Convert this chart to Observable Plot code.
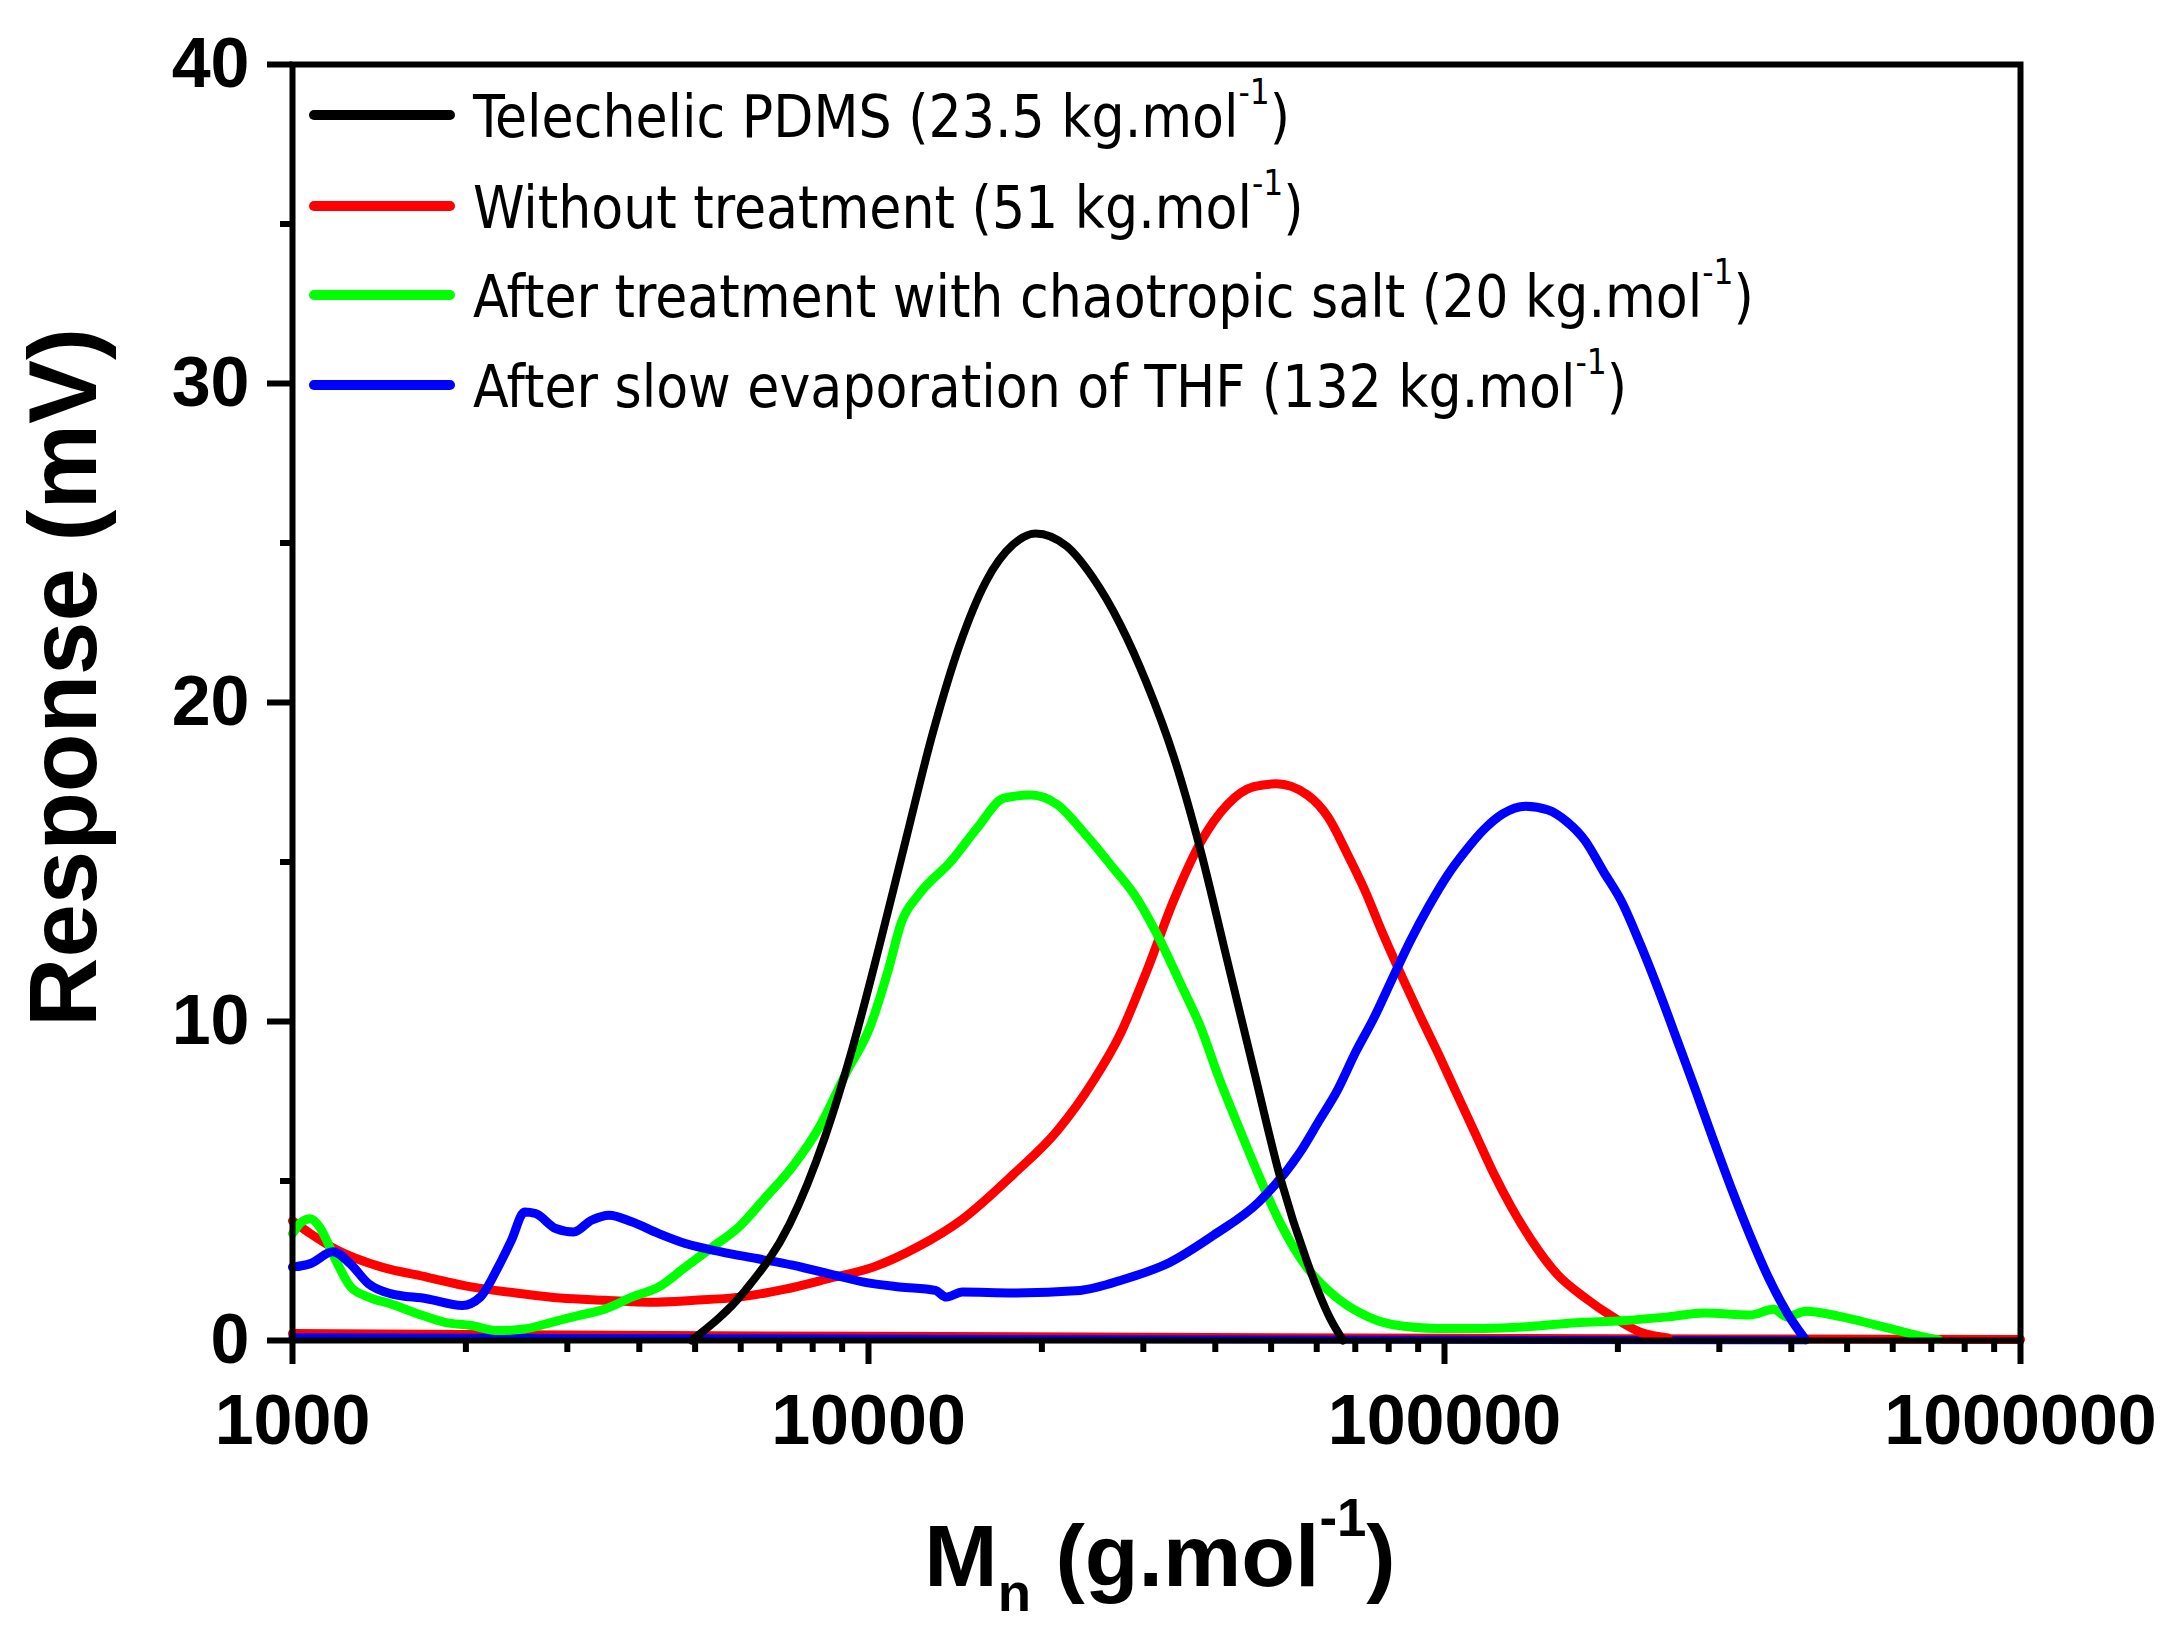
<!DOCTYPE html>
<html>
<head>
<meta charset="utf-8">
<script src="https://cdn.jsdelivr.net/npm/d3@7"></script>
<script src="https://cdn.jsdelivr.net/npm/@observablehq/plot@0.6"></script>
<style>
  body { margin: 0; background: #fff; }
  #chart { position: relative; width: 2181px; height: 1640px; }
  .leg { position: absolute; left: 309px; height: 0; }
  .leg .sw { position: absolute; left: 0; top: -5px; width: 146px; height: 10px; border-radius: 5px; }
  .leg .tx { position: absolute; left: 164px; top: -27px; font-family: "DejaVu Sans Condensed", "DejaVu Sans"; font-stretch: condensed;
             font-size: 58px; line-height: 1; white-space: nowrap; color: #000; }
  .leg sup, .xt sup { font-size: 0.6em; line-height: 0; position: relative; top: 0.12em; vertical-align: top; }
  .xt { position: absolute; left: 1160px; top: 1512px; transform: translateX(-50%); font-family: "Liberation Sans", Arial;
        font-weight: bold; font-size: 88px; line-height: 1; white-space: nowrap; }
  .xt sub { font-size: 0.62em; line-height: 0; position: relative; top: 0.45em; vertical-align: baseline; }
</style>
</head>
<body>
<div id="chart"></div>
<script>
// axes
const decades = [1000, 10000, 100000, 1000000]
const minorSteps = [2, 3, 4, 5, 6, 7, 8, 9]
const yMajor = [0, 10, 20, 30, 40]
const yMinor = [5, 15, 25, 35]

// legend
const names = [
  "Telechelic PDMS (23.5 kg.mol",
  "Without treatment (51 kg.mol",
  "After treatment with chaotropic salt (20 kg.mol",
  "After slow evaporation of THF (132 kg.mol"
]
const colors = ["#000000", "#ff0000", "#00ff00", "#0000ff"]

// Telechelic PDMS
const pdmsM = [4930, 6110, 7290, 8410, 9380, 10420, 11610, 12910, 14390, 16000, 17820, 19500, 22080, 24550, 27350, 30410, 33880, 37670, 41980, 46670, 52000, 57810, 63240, 66680]
const pdmsR = [0, 1.57, 3.64, 6.4, 9.17, 12.3, 15.7, 19.0, 21.8, 23.8, 24.95, 25.3, 24.9, 23.9, 22.45, 20.6, 18.3, 15.4, 11.9, 8.47, 5.03, 2.44, 0.71, 0]

// Without treatment
const rawM = [1000, 1074, 1197, 1429, 1710, 2042, 2443, 2917, 3491, 4169, 4989, 5957, 7129, 8511, 10190, 12160, 14550, 17820, 21280, 24550, 27350, 30410, 33880, 37670, 41980, 46670, 51050, 57810, 62810, 67610, 72780, 78160, 84140, 90570, 97500, 104950, 112980, 121620, 130920, 140930, 157040, 175390, 195880, 218780, 244340]
const rawR = [3.75, 3.35, 2.83, 2.3, 1.99, 1.68, 1.49, 1.33, 1.26, 1.2, 1.26, 1.36, 1.6, 1.94, 2.3, 2.93, 3.8, 5.2, 6.58, 8.13, 9.6, 11.58, 13.8, 15.6, 16.8, 17.36, 17.45, 17.1, 16.4, 15.3, 14.1, 12.75, 11.45, 10.2, 9.0, 7.75, 6.5, 5.25, 4.15, 3.2, 2.07, 1.34, 0.74, 0.26, 0.08]
const rawBaseM = [1000, 3000, 10000, 30000, 100000, 300000, 1000000]
const rawBaseR = [0.22, 0.17, 0.13, 0.1, 0.07, 0.05, 0.03]

// After treatment with chaotropic salt
const saltM = [1000, 1038, 1074, 1114, 1153, 1197, 1262, 1355, 1479, 1648, 1837, 2042, 2275, 2529, 2818, 3133, 3491, 3882, 4325, 4808, 5358, 5957, 6637, 7379, 8222, 9141, 10070, 10810, 11400, 12250, 13870, 15450, 17180, 19140, 21280, 23710, 26360, 29380, 31550, 35080, 37670, 40460, 43450, 47530, 52000, 57810, 64420, 71450, 81100, 97500, 117200, 140930, 169040, 203240, 244340, 282490, 339630, 372410, 393550, 423640, 489780, 557190, 610940, 669880, 721100]
const saltR = [3.35, 3.72, 3.82, 3.56, 3.04, 2.41, 1.68, 1.36, 1.15, 0.84, 0.57, 0.47, 0.31, 0.36, 0.57, 0.78, 0.99, 1.36, 1.68, 2.3, 2.93, 3.56, 4.5, 5.45, 6.7, 8.38, 9.85, 11.58, 13.1, 14.0, 15.0, 16.07, 17.0, 17.1, 16.8, 15.9, 14.9, 13.8, 12.8, 11.06, 9.85, 8.3, 6.9, 5.2, 3.64, 2.27, 1.4, 0.86, 0.5, 0.38, 0.38, 0.44, 0.56, 0.62, 0.74, 0.86, 0.8, 0.98, 0.74, 0.92, 0.74, 0.5, 0.32, 0.14, 0.02]

// After slow evaporation of THF
const thfM = [1000, 1074, 1175, 1259, 1355, 1479, 1710, 1972, 2118, 2275, 2399, 2529, 2642, 2864, 3076, 3304, 3548, 3882, 4325, 4808, 5546, 6397, 7379, 8511, 9817, 11320, 13060, 13650, 14550, 17820, 23280, 27800, 33270, 39720, 47530, 56230, 60530, 65160, 70150, 75510, 81100, 87300, 93970, 101160, 108890, 117220, 126190, 138360, 151360, 162930, 175390, 188800, 203240, 218780, 235500, 253510, 272900, 293090, 315500, 339630, 365600, 393550, 423640]
const thfR = [2.3, 2.41, 2.78, 2.41, 1.78, 1.47, 1.31, 1.1, 1.36, 2.3, 3.14, 4.03, 3.98, 3.51, 3.4, 3.77, 3.93, 3.72, 3.35, 3.04, 2.78, 2.57, 2.36, 2.1, 1.83, 1.68, 1.57, 1.36, 1.52, 1.49, 1.57, 1.92, 2.44, 3.3, 4.33, 5.92, 6.88, 7.84, 9.05, 10.13, 11.33, 12.54, 13.62, 14.58, 15.36, 16.03, 16.51, 16.75, 16.63, 16.27, 15.67, 14.7, 13.74, 12.42, 10.97, 9.41, 7.84, 6.28, 4.72, 3.27, 1.95, 0.86, 0.02]
const thfBaseM = [1000, 3000, 10000, 30000, 100000, 423640]
const thfBaseR = [0.1, 0.08, 0.06, 0.04, 0.02, 0.01]

const pts = (M, R) => M.map((m, i) => ({M: m, r: R[i]}))

const minorX = decades.slice(0, 3).flatMap(d => minorSteps.map(s => s * d))

let chart = Plot.plot({
  width: 2181,
  height: 1640,
  marginLeft: 292,
  marginRight: 161,
  marginTop: 64,
  marginBottom: 300,
  style: {fontFamily: "Liberation Sans, Arial", fontWeight: "bold", color: "#000", background: "#fff"},
  x: {type: "log", domain: [1000, 1000000]},
  y: {domain: [0, 40]},
  marks: [
    Plot.line(pts(rawBaseM, rawBaseR), {x: "M", y: "r", stroke: colors[1], strokeWidth: 9}),
    Plot.line(pts(thfBaseM, thfBaseR), {x: "M", y: "r", stroke: colors[3], strokeWidth: 8}),
    Plot.line(pts(rawM, rawR), {x: "M", y: "r", stroke: colors[1], strokeWidth: 9, curve: "monotone-x"}),
    Plot.line(pts(saltM, saltR), {x: "M", y: "r", stroke: colors[2], strokeWidth: 9, curve: "monotone-x"}),
    Plot.line(pts(thfM, thfR), {x: "M", y: "r", stroke: colors[3], strokeWidth: 9, curve: "monotone-x"}),
    Plot.line(pts(pdmsM, pdmsR), {x: "M", y: "r", stroke: colors[0], strokeWidth: 8, curve: "monotone-x"}),
    Plot.frame({stroke: "#000", strokeWidth: 6}),
    Plot.axisX(decades, {tickSize: 24, tickPadding: 30, strokeWidth: 6, fontSize: 70, tickFormat: d3.format("d"), label: null}),
    Plot.axisX(minorX, {tickSize: 12, strokeWidth: 6, tickFormat: () => "", label: null}),
    Plot.axisY(yMajor, {tickSize: 25, tickPadding: 18, strokeWidth: 6, fontSize: 70, label: null}),
    Plot.axisY(yMinor, {tickSize: 12, strokeWidth: 6, tickFormat: () => "", label: null}),
    Plot.text(["Response (mV)"], {frameAnchor: "left", textAnchor: "middle", rotate: -90, dx: -227, dy: -25, fontSize: 96, fontWeight: "bold"})
  ]
})

const root = d3.select("#chart")
root.append(() => chart)

// legend rows inside the frame
const rowY = [115, 206, 295, 385]
names.forEach((n, i) => {
  const row = root.append("div").attr("class", "leg").style("top", rowY[i] + "px")
  row.append("div").attr("class", "sw").style("background", colors[i])
  row.append("div").attr("class", "tx").html(n + "<sup>-1</sup>)")
})

root.append("div").attr("class", "xt").html("M<sub>n</sub> (g.mol<sup>-1</sup>)")
</script>
</body>
</html>
